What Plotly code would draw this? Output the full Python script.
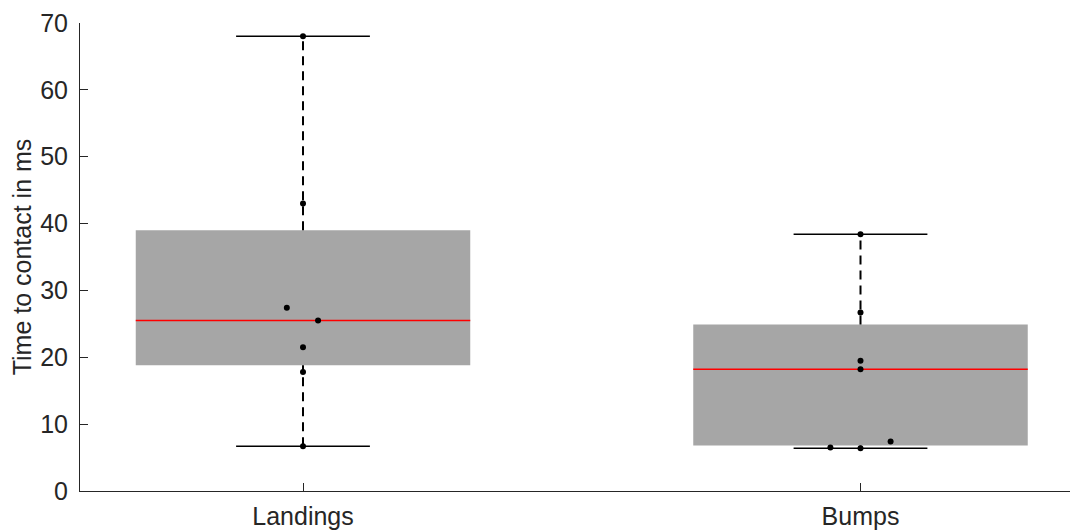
import plotly.graph_objects as go

# ---- data ----
categories = ["Landings", "Bumps"]
positions = [1, 2]
q1 = [18.8, 6.8]
median = [25.5, 18.2]
q3 = [39.0, 24.9]
lower_whisker = [6.7, 6.4]
upper_whisker = [68.0, 38.4]

landings_values = [68.0, 43.0, 27.4, 25.5, 21.5, 17.8, 6.7]
landings_jitter = [0.0, 0.0, -0.029, 0.027, 0.0, 0.0, 0.0]
bumps_values = [38.4, 26.7, 19.5, 18.2, 6.5, 6.4, 7.4]
bumps_jitter = [0.0, 0.0, 0.0, 0.0, -0.054, 0.0, 0.054]

y_ticks = [0, 10, 20, 30, 40, 50, 60, 70]

# ---- style ----
BOX_W = 0.6
CAP_W = 0.24
FONT = "Liberation Sans, Arial, sans-serif"
AX = "#262626"
FS = 25

fig = go.Figure()

# boxes
fig.add_trace(go.Bar(
    x=positions, base=q1, y=[b - a for a, b in zip(q1, q3)], width=BOX_W,
    marker=dict(color="#a6a6a6", line=dict(width=0)), hoverinfo="skip",
))

# medians
mx, my = [], []
for p, m in zip(positions, median):
    mx += [p - BOX_W / 2, p + BOX_W / 2, None]
    my += [m, m, None]
fig.add_trace(go.Scatter(x=mx, y=my, mode="lines",
                         line=dict(color="#ff0000", width=1.5), hoverinfo="skip"))

# whiskers
wx, wy = [], []
for p, a, b, lo, hi in zip(positions, q1, q3, lower_whisker, upper_whisker):
    wx += [p, p, None, p, p, None]
    wy += [b, hi, None, lo, a, None]
fig.add_trace(go.Scatter(x=wx, y=wy, mode="lines",
                         line=dict(color="black", width=2, dash="9px,6px"),
                         hoverinfo="skip"))

# caps
cx, cy = [], []
for p, lo, hi in zip(positions, lower_whisker, upper_whisker):
    cx += [p - CAP_W / 2, p + CAP_W / 2, None, p - CAP_W / 2, p + CAP_W / 2, None]
    cy += [hi, hi, None, lo, lo, None]
fig.add_trace(go.Scatter(x=cx, y=cy, mode="lines",
                         line=dict(color="black", width=1.5), hoverinfo="skip"))

# points
px = [positions[0] + j for j in landings_jitter] + [positions[1] + j for j in bumps_jitter]
py = landings_values + bumps_values
fig.add_trace(go.Scatter(x=px, y=py, mode="markers",
                         marker=dict(color="black", size=6), hoverinfo="skip"))

# page body has an 8px margin, so the figure is sized/offset to compensate
fig.update_layout(
    width=1070, height=524,
    margin=dict(l=72, r=0, t=15, b=41, autoexpand=False),
    plot_bgcolor="white", paper_bgcolor="white",
    showlegend=False,
    font=dict(family=FONT, size=FS, color=AX),
)
fig.update_xaxes(
    range=[0.6, 0.6 + 998 / 557.5],
    tickmode="array", tickvals=positions, ticktext=categories,
    showline=True, linecolor=AX, linewidth=1,
    ticks="inside", ticklen=8, tickcolor=AX, tickwidth=1,
    showgrid=False, zeroline=False, ticklabelstandoff=3,
    tickfont=dict(family=FONT, size=FS, color=AX),
)
fig.update_yaxes(
    range=[0, 70], tickmode="array", tickvals=y_ticks,
    showline=True, linecolor=AX, linewidth=1,
    ticks="inside", ticklen=8, tickcolor=AX, tickwidth=1,
    showgrid=False, zeroline=False, ticklabelstandoff=6,
    tickfont=dict(family=FONT, size=FS, color=AX),
    title=dict(text="Time to contact in ms", font=dict(family=FONT, size=FS, color=AX), standoff=8),
)

fig.write_html("out.html", config={"displayModeBar": False})
